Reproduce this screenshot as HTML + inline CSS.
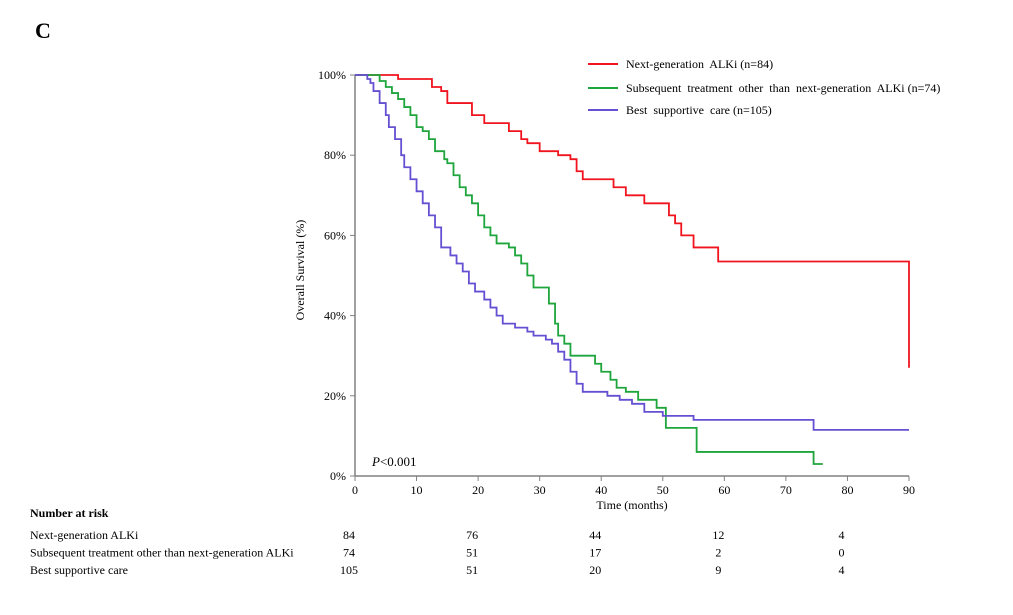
<!DOCTYPE html>
<html><head><meta charset="utf-8"><style>
body{margin:0;background:#fff;}
svg text{font-family:"Liberation Serif",serif;fill:#000;}
</style></head><body>
<svg width="1013" height="610">
<text x="35" y="38" font-size="22" font-weight="bold">C</text>
<g id="axes"></g>
<g id="curves"></g>
<g id="legend"></g>
<text x="372" y="466" font-size="13"><tspan font-style="italic">P</tspan>&lt;0.001</text>
<text x="304" y="270" font-size="12" text-anchor="middle" transform="rotate(-90 304 270)">Overall Survival (%)</text>
<text x="632" y="509" font-size="12" text-anchor="middle">Time (months)</text>
<text x="30" y="517" font-size="12" font-weight="bold">Number at risk</text>
<g id="risk"></g>
</svg>
<script>
const xTicks=[0,10,20,30,40,50,60,70,80,90];
const yTicks=[0,20,40,60,80,100];
const seriesNames=["Next-generation  ALKi (n=84)","Subsequent  treatment  other  than  next-generation  ALKi (n=74)","Best  supportive  care (n=105)"];
const seriesColors=["#f0141e","#1ea53c","#6450d2"];
const redT=[0,7,12,12.5,14,15,19,21,25,27,28,30,33,35,36,37,42,44,47,51,52,53,55,59,89.9,90];
const redS=[100,99,99,97,96,93,90,88,86,84,83,81,80,79,76,74,72,70,68,65,63,60,57,53.5,53.5,27];
const greenT=[0,4,5,6,7,8,9,10,11,12,13,14.5,15,16,17,18,19,20,21,22,23,25,26,27,28,29,31.5,32.5,33,34,35,39,40,41.5,42.5,44,46,49,50.5,55.5,74.5,76];
const greenS=[100,98.5,97,95.5,94,92,90,87,86,84,81,79,78,75,72,70,68,65,62,60,58,57,55,53,50,47,43,38,35,33,30,28,26,24,22,21,19,17,12,6,3,3];
const purpleT=[0,2,2.5,3,4,5,5.5,6.5,7.5,8,9,10,11,12,13,14,15.5,16.5,17.5,18.5,19.5,21,22,23,24,26,28,29,31,32,33,34,35,36,37,41,43,45,47,50,55,74.5,90];
const purpleS=[100,99,98,96,93,90,87,84,80,77,74,71,68,65,62,57,55,53,51,48,46,44,42,40,38,37,36,35,34,33,31,29,26,23,21,20,19,18,16,15,14,11.5,11.5];
const riskGroups=["Next-generation ALKi","Subsequent treatment other than next-generation ALKi","Best supportive care"];
const riskTimes=[0,20,40,60,80];
const riskRed=[84,76,44,12,4];
const riskGreen=[74,51,17,2,0];
const riskPurple=[105,51,20,9,4];
const NS="http://www.w3.org/2000/svg";
const X=t=>355+t*(909-355)/90, Y=s=>476-s*(476-75)/100;
function mk(tag,attrs,parent,txt){const e=document.createElementNS(NS,tag);for(const k in attrs)e.setAttribute(k,attrs[k]);if(txt!==undefined)e.textContent=txt;parent.appendChild(e);return e;}
const ax=document.getElementById('axes');
let l=mk('line',{x1:X(0),x2:X(90),y1:476,y2:476,stroke:'#808080','stroke-width':1.5},ax);

l=mk('line',{x1:355,x2:355,y1:Y(100),y2:476,stroke:'#808080','stroke-width':1.5},ax);

xTicks.forEach(t=>{mk('line',{x1:X(t),x2:X(t),y1:476,y2:481,stroke:'#808080'},ax);
 const e=mk('text',{x:X(t),y:494,'font-size':12,'text-anchor':'middle'},ax,t);
 });
yTicks.forEach(s=>{mk('line',{x1:350,x2:355,y1:Y(s),y2:Y(s),stroke:'#808080'},ax);
 const e=mk('text',{x:346,y:Y(s)+4,'font-size':12,'text-anchor':'end'},ax,s+'%');
 });
const cv=document.getElementById('curves');
[[redT,redS],[greenT,greenS],[purpleT,purpleS]].forEach((d,i)=>{
 let p='M'+X(d[0][0])+','+Y(d[1][0]);
 for(let k=1;k<d[0].length;k++){p+=' H'+X(d[0][k])+' V'+Y(d[1][k]);}
 const e=mk('path',{d:p,fill:'none',stroke:seriesColors[i],'stroke-width':1.8},cv);
 });
const lg=document.getElementById('legend');
[64,88,110].forEach((y,i)=>{mk('line',{x1:588,x2:618,y1:y,y2:y,stroke:seriesColors[i],'stroke-width':2},lg);
 const e=mk('text',{x:626,y:y+4,'font-size':12,'xml:space':'preserve'},lg,seriesNames[i]);
 e.style.whiteSpace='pre';
 });
const rk=document.getElementById('risk');
[riskRed,riskGreen,riskPurple].forEach((r,i)=>{const y=539+i*17.5;
 const e=mk('text',{x:30,y:y,'font-size':12},rk,riskGroups[i]);
 
 r.forEach((v,j)=>{const c=mk('text',{x:X(riskTimes[j])-6,y:y,'font-size':12,'text-anchor':'middle'},rk,v);
  });});
</script>
</body></html>
